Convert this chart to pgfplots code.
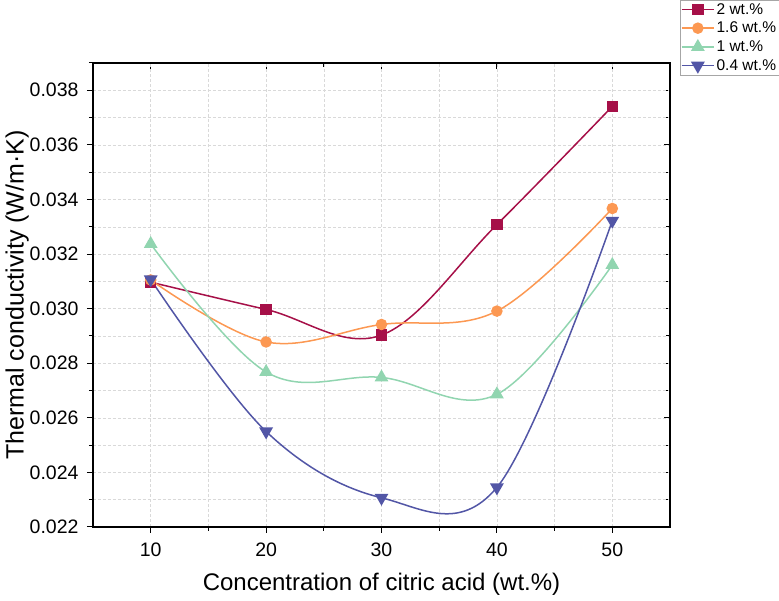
\documentclass[border=0pt]{standalone}
\usepackage{pgfplots}
\pgfplotsset{compat=1.18}
\usepackage{fontspec}
\setmainfont{Liberation Sans}

\definecolor{cA}{RGB}{166,16,72}
\definecolor{cB}{RGB}{252,152,82}
\definecolor{cC}{RGB}{145,213,176}
\definecolor{cD}{RGB}{82,86,166}

\pgfplotsset{
  frame/.style={
    at={(0,0)}, anchor=south west,
    scale only axis, width=577pt, height=464pt,
    xmin=5, xmax=55, ymin=0.022, ymax=0.039,
    xtick={10,20,30,40,50},
    minor xtick={15,25,35,45},
    ytick={0.022,0.024,...,0.0381},
    minor ytick={0.023,0.025,...,0.0391},
    scaled y ticks=false,
    axis line style={line width=1.3pt},
    tick style={black, line width=1pt},
    major tick length=6pt, minor tick length=4pt,
  }
}

\begin{document}
\begin{tikzpicture}[x=1pt,y=1pt]
\useasboundingbox (-93,-74) rectangle (686,527);
% inward ticks on the top and right edges
\begin{axis}[frame,
  tick align=inside, xtick pos=top, ytick pos=right,
  xticklabels={}, yticklabels={},
]
\end{axis}
\begin{axis}[frame,
  grid=both,
  major grid style={densely dashed, gray!30, line width=0.5pt},
  minor grid style={densely dashed, gray!30, line width=0.5pt},
  tick align=outside,
  xtick pos=bottom, ytick pos=left,
  /pgf/number format/assume math mode=true,
  yticklabel style={/pgf/number format/fixed, /pgf/number format/precision=3, /pgf/number format/fixed zerofill, xshift=-5pt},
  xticklabel style={yshift=-6pt},
  ticklabel style={font=\fontsize{19.5}{21}\selectfont},
  xlabel={Concentration of citric acid (wt.\%)},
  ylabel={Thermal conductivity (W/m·K)},
  xlabel style={font=\fontsize{24}{27}\selectfont, yshift=-10pt},
  ylabel style={font=\fontsize{25}{28}\selectfont, yshift=-6pt},
  legend style={at={(1.017,1.136)}, anchor=north west, draw=gray!70, line width=0.6pt,
    font=\fontsize{15.5}{17}\selectfont, inner sep=1pt, row sep=2.5pt, fill=white},
  legend cell align=left,
  legend image code/.code={
    \draw[#1, line width=1.5pt] (0pt,0pt) -- (32pt,0pt);
    \draw[#1, mark repeat=2, mark phase=2] plot coordinates {(0pt,0pt) (16pt,0pt) (32pt,0pt)};
  },
  clip=false,
]
\addplot[cA, line width=1.5pt, smooth, tension=0.6, mark=square*, mark size=5pt, mark options={solid, fill=cA}]
  coordinates {(10,0.03097) (20,0.02997) (30,0.02903) (40,0.03308) (50,0.03741)};
\addlegendentry{2 wt.\%}
\addplot[cB, line width=1.5pt, smooth, tension=0.6, mark=*, mark size=5pt, mark options={solid, fill=cB}]
  coordinates {(10,0.03105) (20,0.02878) (30,0.02942) (40,0.02991) (50,0.03367)};
\addlegendentry{1.6 wt.\%}
\addplot[cC, line width=1.5pt, smooth, tension=0.6, mark=triangle*, mark size=6.5pt, mark options={solid, fill=cC}]
  coordinates {(10,0.03237) (20,0.02768) (30,0.02748) (40,0.02686) (50,0.03160)};
\addlegendentry{1 wt.\%}
\addplot[cD, line width=1.5pt, smooth, tension=0.6, mark=triangle*, mark size=6.5pt, mark options={solid, fill=cD, rotate=180}]
  coordinates {(10,0.03107) (20,0.02550) (30,0.02307) (40,0.02345) (50,0.03322)};
\addlegendentry{0.4 wt.\%}
\end{axis}
\end{tikzpicture}
\end{document}
